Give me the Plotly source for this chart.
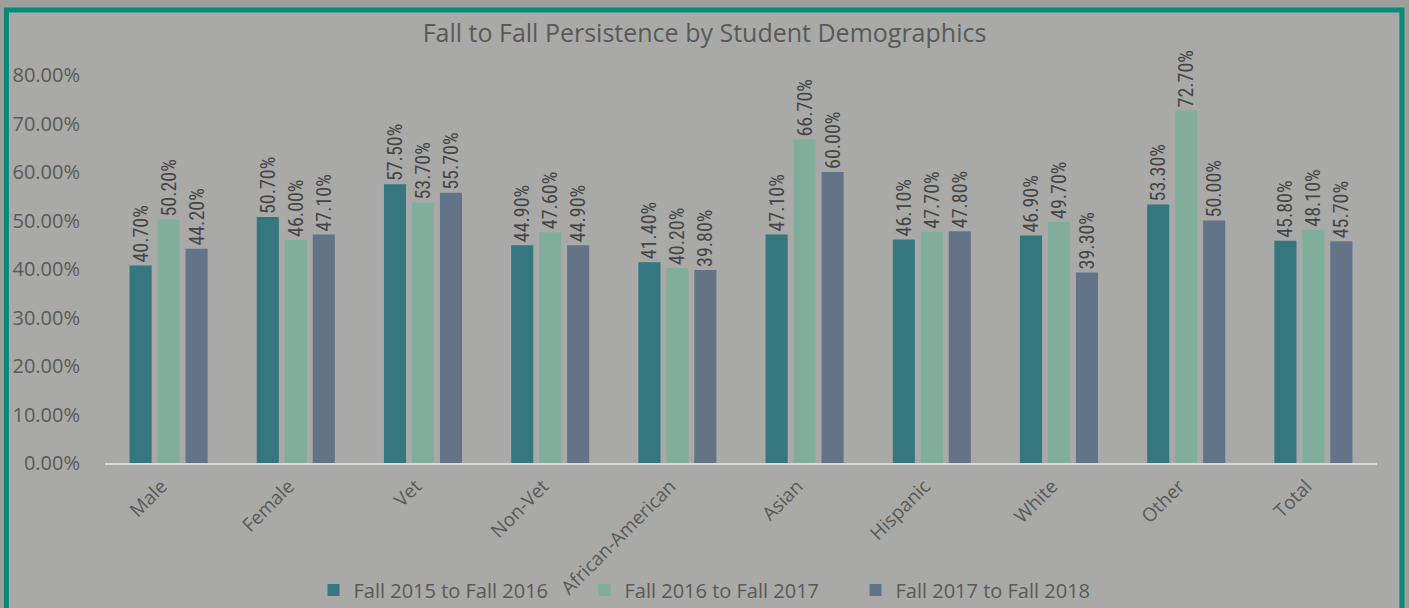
import plotly.graph_objects as go

categories = ["Male", "Female", "Vet", "Non-Vet", "African-American", "Asian",
              "Hispanic", "White", "Other", "Total"]
series_names = ["Fall 2015 to Fall 2016", "Fall 2016 to Fall 2017", "Fall 2017 to Fall 2018"]
fall_2015_2016 = [0.407, 0.507, 0.575, 0.449, 0.414, 0.471, 0.461, 0.469, 0.533, 0.458]
fall_2016_2017 = [0.502, 0.460, 0.537, 0.476, 0.402, 0.667, 0.477, 0.497, 0.727, 0.481]
fall_2017_2018 = [0.442, 0.471, 0.557, 0.449, 0.398, 0.600, 0.478, 0.393, 0.500, 0.457]
y_ticks = [0, 0.1, 0.2, 0.3, 0.4, 0.5, 0.6, 0.7, 0.8]

colors = ["#36767f", "#80ae9a", "#637489"]
font_fam = "Open Sans, Liberation Sans, sans-serif"
label_font = "Liberation Sans Narrow, Roboto Condensed, Roboto, sans-serif"

fig = go.Figure()
for name, vals, c in zip(series_names, [fall_2015_2016, fall_2016_2017, fall_2017_2018], colors):
    fig.add_trace(go.Bar(
        x=categories, y=vals, name=name, marker=dict(color=c, line=dict(width=0)),
        texttemplate="%{y:.2%}", textposition="outside", textangle=-90,
        constraintext="none",
        textfont=dict(family=label_font, size=20, color="#454545"),
        cliponaxis=False,
    ))

fig.update_layout(
    width=1409, height=608,
    paper_bgcolor="#9e9f9d", plot_bgcolor="rgba(0,0,0,0)",
    margin=dict(l=105, r=32, t=75, b=145, autoexpand=False),
    barmode="group", bargap=0.34, bargroupgap=0.21,
    title=dict(text="Fall to Fall Persistence by Student Demographics",
               x=0.5, xanchor="center", y=0.945, yanchor="middle",
               font=dict(family=font_fam, size=25, color="#595959")),
    font=dict(family=font_fam, color="#595959"),
    showlegend=True,
    legend=dict(orientation="h", x=0.4835, xanchor="center", y=-0.327, yanchor="middle",
                font=dict(family=font_fam, size=20, color="#595959"),
                traceorder="normal", itemwidth=30, entrywidth=226,
                bgcolor="rgba(0,0,0,0)"),
    shapes=[dict(type="rect", xref="paper", yref="paper", layer="below",
                 x0=-0.0775, x1=1.0196, y0=-0.5, y1=1.1675,
                 fillcolor="#a9aaa8",
                 line=dict(color="#0a8a78", width=5))],
)
fig.update_xaxes(showline=True, linecolor="#d9d9d9", linewidth=1.5, tickangle=-45,
                 tickfont=dict(family=font_fam, size=19, color="#595959"),
                 ticklabelshift=-7, ticklabelstandoff=3,
                 showgrid=False, ticks="", automargin=False)
fig.update_yaxes(range=[0, 0.8], tickvals=y_ticks, tickformat=".2%", showgrid=False,
                 zeroline=False, showline=False, ticklabelstandoff=24, automargin=False,
                 tickfont=dict(family=font_fam, size=20, color="#595959"))

fig.write_html("out.html", config={"displayModeBar": False},
               post_script="document.body.style.margin='0';")
